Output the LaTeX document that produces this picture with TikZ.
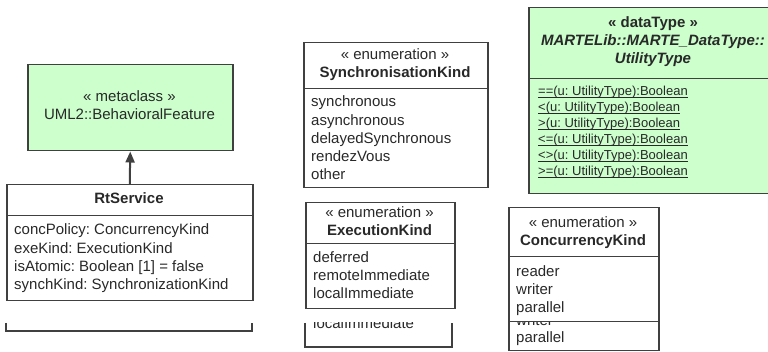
\documentclass[tikz,border=0pt]{standalone}
\usepackage{fontspec}
\setmainfont{Liberation Sans}
\usetikzlibrary{arrows.meta}
\definecolor{umlgreen}{RGB}{204,255,204}
\definecolor{umlline}{RGB}{64,64,64}
\definecolor{umltext}{RGB}{40,40,40}
\newcommand{\ulop}[1]{\setbox0\hbox{#1}\rlap{\rule[-1.8pt]{\wd0}{0.7pt}}\box0}
\frenchspacing
\begin{document}
\begin{tikzpicture}[x=1pt,y=-1pt,
	part/.style={draw=umlline,line width=1.5pt,anchor=north west,inner sep=0pt},
	lit/.style={anchor=base west,inner sep=0pt,text=umltext,font=\fontsize{15}{18}\selectfont},
	ttl/.style={anchor=base,inner sep=0pt,text=umltext,font=\fontsize{15}{18}\selectfont},
	op/.style={anchor=base west,inner sep=0pt,text=umltext,font=\fontsize{13}{15}\selectfont}]
	\useasboundingbox (0,0) rectangle (768,352);
	\clip (0,0) rectangle (768,352);
	% metaclass
	\node[part,fill=umlgreen,minimum width=205pt,minimum height=86pt] (meta) at (27,64) {};
	\node[ttl] (metaSt) at (129.5,102) {« metaclass »};
	\node[ttl] (metaName) at (129.5,120) {UML2::BehavioralFeature};
	% RtService
	\node[part,minimum width=246pt,minimum height=31pt] (rtHead) at (6,184) {};
	\node[part,minimum width=246pt,minimum height=85pt] (rtBody) at (6,215) {};
	\node[ttl,font=\fontsize{15}{18}\selectfont\bfseries] (rtName) at (129,204) {RtService};
	\foreach \a [count=\i from 0] in {{concPolicy: ConcurrencyKind},{exeKind: ExecutionKind},{isAtomic: Boolean [1] = false},{synchKind: SynchronizationKind}}
		\node[lit] (rtAttr\i) at (14,235+18.3*\i) {\a};
	\draw[umlline,line width=1.5pt] (6,323) -- (6,331) -- (252,331) -- (252,323);
	\draw[umlline,line width=2pt,-{Triangle[length=11pt,width=9pt]}] (rtHead.north) -- (meta.south);
	% SynchronisationKind
	\node[part,minimum width=184pt,minimum height=46pt] (skHead) at (303,42) {};
	\node[part,minimum width=184pt,minimum height=99pt] (skBody) at (303,88) {};
	\node[ttl] (skSt) at (395,60) {« enumeration »};
	\node[ttl,font=\fontsize{15}{18}\selectfont\bfseries] (skName) at (395,78) {SynchronisationKind};
	\foreach \a [count=\i from 0] in {synchronous,asynchronous,delayedSynchronous,rendezVous,other}
		\node[lit] (skLit\i) at (311,107+18.2*\i) {\a};
	% ExecutionKind
	\node[part,minimum width=149pt,minimum height=41pt] (ekHead) at (305,202) {};
	\node[part,minimum width=149pt,minimum height=65pt] (ekBody) at (305,243) {};
	\node[ttl] (ekSt) at (379.5,218) {« enumeration »};
	\node[ttl,font=\fontsize{15}{18}\selectfont\bfseries] (ekName) at (379.5,236) {ExecutionKind};
	\foreach \a [count=\i from 0] in {deferred,remoteImmediate,localImmediate}
		\node[lit] (ekLit\i) at (313,263+18*\i) {\a};
	\draw[umlline,line width=1.5pt] (305,323) -- (305,347) -- (452,347) -- (452,323);
	\begin{scope}
		\clip (300,323) rectangle (460,352);
		\node[lit] (ekLitB) at (313,329) {localImmediate};
	\end{scope}
	% UtilityType
	\node[part,fill=umlgreen,minimum width=250pt,minimum height=71pt] (utHead) at (528,7) {};
	\node[part,fill=umlgreen,minimum width=250pt,minimum height=115pt] (utBody) at (528,78) {};
	\node[ttl,font=\fontsize{15}{18}\selectfont\bfseries] (utSt) at (653,28) {« dataType »};
	\node[ttl,font=\fontsize{15}{18}\selectfont\bfseries\itshape] (utPath) at (653,46) {MARTELib::MARTE\_DataType::};
	\node[ttl,font=\fontsize{15}{18}\selectfont\bfseries\itshape] (utName) at (653,64) {UtilityType};
	\foreach \a [count=\i from 0] in {{==(u: UtilityType):Boolean},{<(u: UtilityType):Boolean},{>(u: UtilityType):Boolean},{<=(u: UtilityType):Boolean},{<>(u: UtilityType):Boolean},{>=(u: UtilityType):Boolean}}
		\node[op] (utOp\i) at (538,96+16*\i) {\ulop{\a}};
	% ConcurrencyKind
	\node[part,minimum width=150pt,minimum height=49pt] (ckHead) at (508,207) {};
	\node[part,minimum width=150pt,minimum height=65pt] (ckBody) at (508,256) {};
	\node[ttl] (ckSt) at (583,228) {« enumeration »};
	\node[ttl,font=\fontsize{15}{18}\selectfont\bfseries] (ckName) at (583,246) {ConcurrencyKind};
	\foreach \a [count=\i from 0] in {reader,writer,parallel}
		\node[lit] (ckLit\i) at (516,277+17.7*\i) {\a};
	\node[part,minimum width=150pt,minimum height=29pt] (ckRest) at (508,321) {};
	\begin{scope}
		\clip (500,322.5) rectangle (670,352);
		\node[lit] (ckLitB) at (516,325.5) {writer};
	\end{scope}
	\node[lit] (ckLitC) at (516,343) {parallel};
\end{tikzpicture}
\end{document}
